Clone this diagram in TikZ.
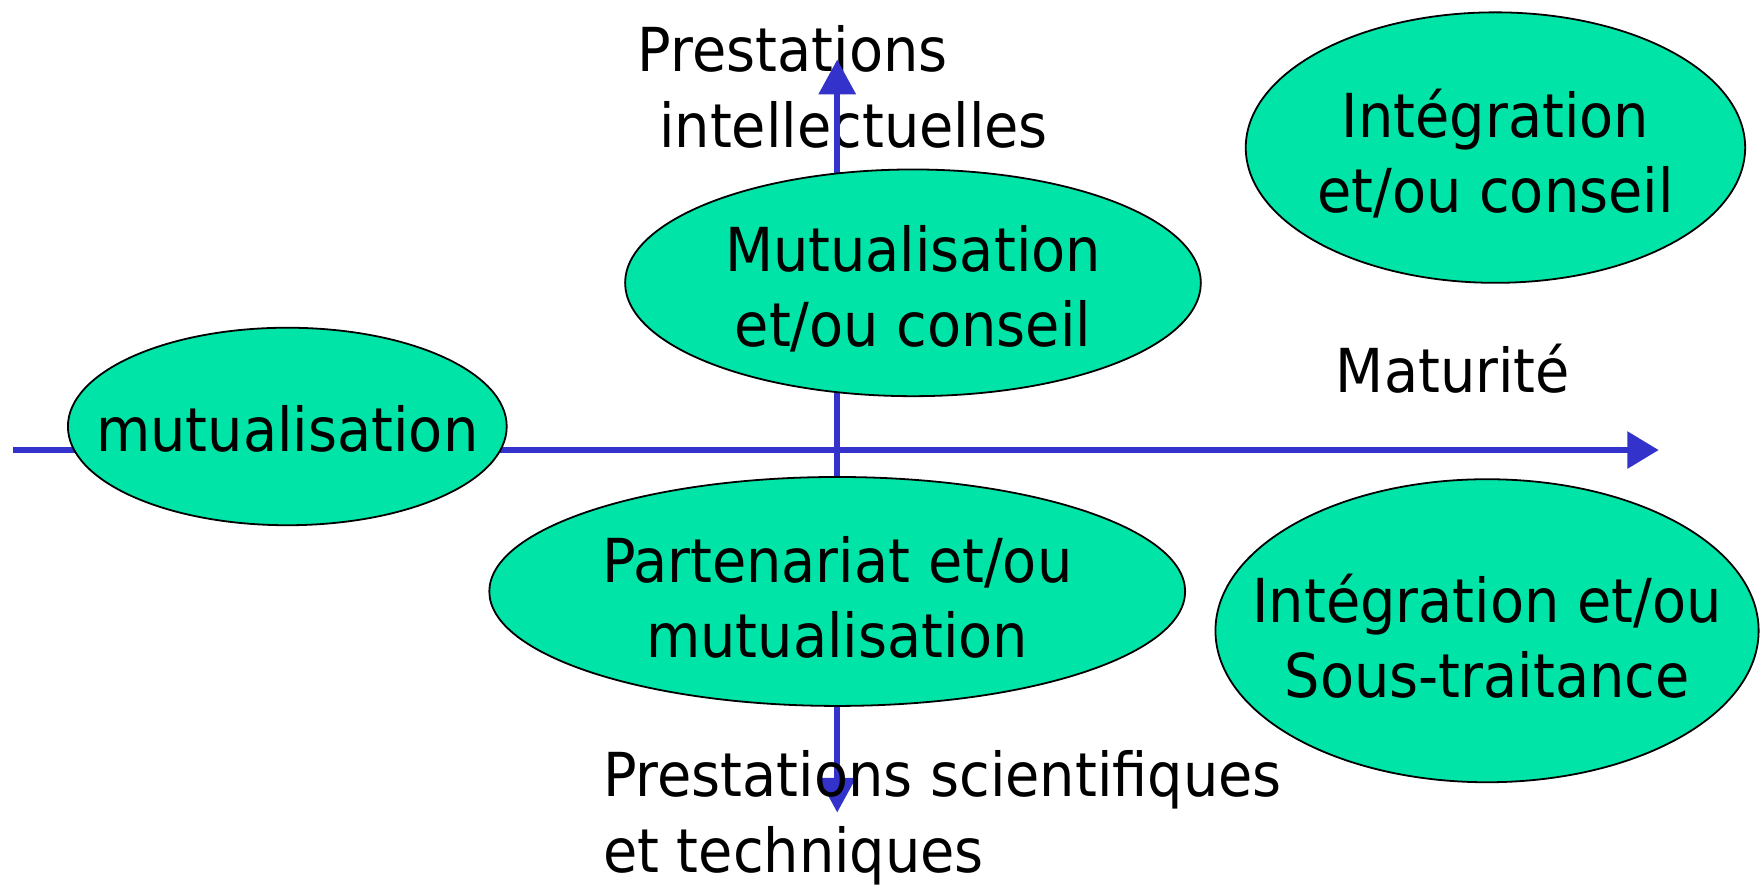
\documentclass[tikz,border=0pt]{standalone}
\usepackage{fontspec}
\setmainfont{DejaVu Sans}[FakeStretch=0.92]
\usetikzlibrary{arrows.meta,shapes.geometric}
\definecolor{axisblue}{RGB}{51,51,204}
\definecolor{mint}{RGB}{0,228,168}
\tikzset{
	axis/.style={line width=2.8pt, axisblue},
	zone/.style={ellipse, draw=black, line width=0.8pt, fill=mint, inner sep=0pt},
	lbl/.style={font=\fontsize{27pt}{33.5pt}\selectfont, inner sep=0pt, align=center},
	ztxt/.style={lbl, yshift=-2.5pt},
}
\begin{document}
\begin{tikzpicture}[x=0.5pt,y=-0.5pt]
	\useasboundingbox (0,0) rectangle (1570,788);
	\node[lbl, align=left, anchor=base west] (intel) at (568,131) {Prestations\\\hspace*{9.5pt}intellectuelles};

	% axes
	\coordinate (west) at (12,401);
	\coordinate (east) at (1478,401);
	\coordinate (north) at (746,53);
	\coordinate (south) at (746,724);
	\draw[axis, -{Triangle[length=14pt,width=16pt]}] (west) -- (east);
	\draw[axis, {Triangle[length=15.5pt,width=16pt]}-{Triangle[length=15.5pt,width=16pt]}] (south) -- (north);

	% zones
	\node[zone, minimum width=195.5pt, minimum height=88pt] (mutu) at (256,380) {};
	\node[zone, minimum width=256.5pt, minimum height=101pt] (mutucons) at (813.5,252) {};
	\node[zone, minimum width=222.5pt, minimum height=120.5pt] (integcons) at (1332.5,131.5) {};
	\node[zone, minimum width=310pt, minimum height=102pt] (partmutu) at (746,527) {};
	\node[zone, minimum width=242pt, minimum height=135pt] (integsous) at (1325,562) {};

	\node[lbl, yshift=-1pt] at (mutu) {mutualisation};
	\node[ztxt] at (mutucons) {Mutualisation\\et/ou conseil};
	\node[ztxt] at (integcons) {Intégration\\et/ou conseil};
	\node[ztxt] at (partmutu) {Partenariat et/ou\\mutualisation};
	\node[ztxt] at (integsous) {Intégration et/ou\\Sous-traitance};

	\node[lbl, anchor=base west] (matur) at (1190,350) {Maturité};
	\node[lbl, align=left, anchor=base west] (scient) at (537,777) {Prestations scientifiques\\et techniques};
\end{tikzpicture}
\end{document}
